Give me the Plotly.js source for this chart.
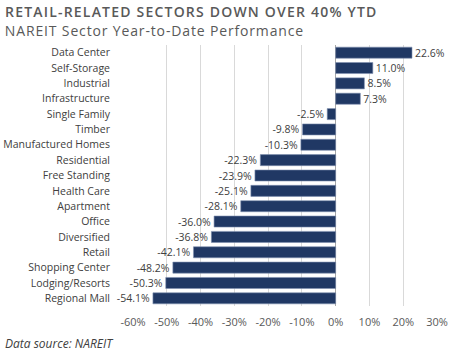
<!DOCTYPE html>
<html><head><meta charset="utf-8">
<script src="https://cdn.plot.ly/plotly-3.0.1.min.js"></script>
<style>
html,body{margin:0;padding:0;background:#fff}#c{width:450px;height:352px}
.annotation[data-index="0"] text{letter-spacing:1.2px}
.annotation[data-index="1"] text{letter-spacing:0.85px}
</style>
</head><body><div id="c"></div>
<script>
const sectors = ["Data Center","Self-Storage","Industrial","Infrastructure","Single Family","Timber","Manufactured Homes","Residential","Free Standing","Health Care","Apartment","Office","Diversified","Retail","Shopping Center","Lodging/Resorts","Regional Mall"];
const ytd = [22.6,11.0,8.5,7.3,-2.5,-9.8,-10.3,-22.3,-23.9,-25.1,-28.1,-36.0,-36.8,-42.1,-48.2,-50.3,-54.1];
const tickVals = [-60,-50,-40,-30,-20,-10,0,10,20,30];
const tickText = tickVals.map(v => v + "%");
const labels = ytd.map(v => v.toFixed(1) + "%");

const trace = {
  type: "bar", orientation: "h",
  y: sectors, x: ytd,
  text: labels, textposition: "outside", cliponaxis: false, constraintext: "none",
  textfont: {family: "Open Sans", size: 10.5, color: "#404040"},
  marker: {color: "#203864", line: {color: "#8090b0", width: 0.6}},
  hoverinfo: "none"
};
const layout = {
  width: 450, height: 352,
  margin: {l: 133, r: 13, t: 45, b: 46},
  paper_bgcolor: "#fff", plot_bgcolor: "#fff",
  bargap: 0.28,
  showlegend: false,
  font: {family: "Open Sans", color: "#404040"},
  xaxis: {
    range: [-60, 30], tickvals: tickVals, ticktext: tickText,
    showgrid: true, gridcolor: "#d9d9d9", gridwidth: 1,
    zeroline: true, zerolinecolor: "#a6a6a6", zerolinewidth: 1,
    showline: false, ticks: "", ticklen: 0, ticklabelstandoff: 8,
    tickfont: {family: "Open Sans", size: 11, color: "#595959"}
  },
  yaxis: {
    autorange: "reversed", type: "category",
    showgrid: false, zeroline: false, showline: false, ticks: "",
    ticklabelstandoff: 22,
    tickfont: {family: "Open Sans", size: 10.5, color: "#404040"}
  },
  annotations: [
    {text: "RETAIL-RELATED SECTORS DOWN OVER 40% YTD", xref: "paper", yref: "paper",
     x: 0, xanchor: "left", xshift: -106, y: 1, yanchor: "bottom", yshift: 22, showarrow: false,
     font: {family: "Open Sans", size: 14, weight: 600, color: "#595959"}},
    {text: "NAREIT Sector Year-to-Date Performance", xref: "paper", yref: "paper",
     x: 0, xanchor: "left", xshift: -114, y: 1, yanchor: "bottom", yshift: 3, showarrow: false,
     font: {family: "Open Sans", size: 14, color: "#595959"}},
    {text: "Data source: NAREIT", xref: "paper", yref: "paper",
     x: 0, xanchor: "left", xshift: -130, y: 0, yanchor: "top", yshift: -27, showarrow: false,
     font: {family: "Open Sans", size: 12, style: "italic", color: "#404040"}}
  ]
};
Plotly.newPlot("c", [trace], layout, {displayModeBar: false, staticPlot: true});
</script></body></html>
